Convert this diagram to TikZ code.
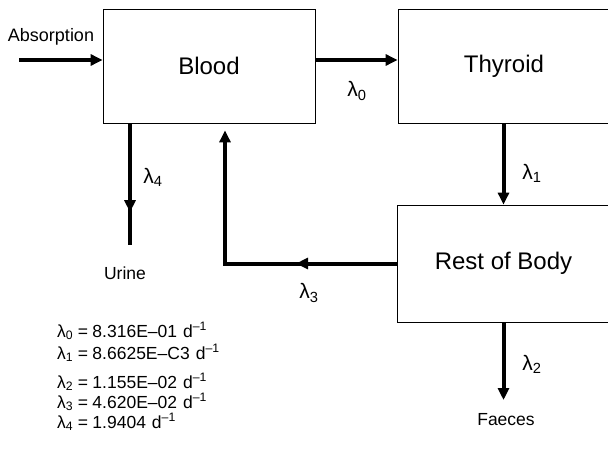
\documentclass[tikz,border=0pt]{standalone}
\usepackage{fontspec}
\setmainfont{Liberation Sans}
\usetikzlibrary{arrows.meta,decorations.markings}
\newcommand\lamb[1]{λ\textsubscript{#1}}
\newcommand\perday{d\textsuperscript{–1}}
\newcommand\eqs{\hspace{4.5pt}=\hspace{4.5pt}}
\begin{document}
\begin{tikzpicture}[x=1pt,y=-1pt,
  box/.style={draw, line width=0.8pt, inner sep=0pt, font=\fontsize{24}{28}\selectfont},
  flow/.style={line width=4pt, -{Triangle[length=12pt,width=11pt]}},
  plainflow/.style={line width=4pt},
  lbl/.style={font=\fontsize{17.5}{20}\selectfont, inner sep=0pt},
  lam/.style={font=\fontsize{21}{24}\selectfont, inner sep=0pt},
  eq/.style={font=\fontsize{17.5}{20}\selectfont, anchor=base west, inner sep=0pt},
  midarrow/.style={postaction={decorate}, decoration={markings,
     mark=at position #1 with {\arrow{Triangle[length=12pt,width=11pt]}}}}]
\useasboundingbox (0,0) rectangle (608,468);
\clip (0,0) rectangle (608,468);

% compartments
\node[box, minimum width=212pt, minimum height=114pt] (blood) at (209,66) {Blood};
\node[box, minimum width=212pt, minimum height=114pt] (thy) at (504,66) {Thyroid};
\node[box, minimum width=213pt, minimum height=117pt] (rest) at (503.5,263.5) {Rest of Body};

% free ends
\coordinate (absin) at (19,60);
\coordinate (urine) at (130,245);
\coordinate (corner) at (225,263.5);
\coordinate (faeces) at (503.5,400);

% labels
\node[lbl, font=\fontsize{18}{21}\selectfont] (tabs) at (51,37) {Absorption};
\node[lbl] (turine) at (125,273) {Urine};
\node[lbl] (tfaeces) at (506,420) {Faeces};
\node[lam] (l0) at (357,91) {\lamb{0}};
\node[lam] (l1) at (532,173) {\lamb{1}};
\node[lam] (l2) at (532,364) {\lamb{2}};
\node[lam] (l3) at (309,293) {\lamb{3}};
\node[lam] (l4) at (153,177) {\lamb{4}};

% connectors
\draw[flow] (absin) -- (blood.west |- absin);
\draw[flow] (blood.east |- absin) -- (thy.west |- absin);
\draw[flow] (thy.south -| rest.north) -- (rest.north);
\draw[flow] (rest.south) -- (faeces);
\draw[plainflow, midarrow=0.73] (blood.south -| urine) -- (urine);
\draw[flow, midarrow=0.33] (rest.west) -- (corner) -- ([yshift=-7pt]blood.south -| corner);

% rate constants
\node[eq] (e0) at (57,337) {\lamb{0}\eqs 8.316E–01\hspace{6pt}\perday};
\node[eq] (e1) at (57,359) {\lamb{1}\eqs 8.6625E–C3\hspace{6pt}\perday};
\node[eq] (e2) at (57,388) {\lamb{2}\eqs 1.155E–02\hspace{6pt}\perday};
\node[eq] (e3) at (57,408) {\lamb{3}\eqs 4.620E–02\hspace{6pt}\perday};
\node[eq] (e4) at (57,428) {\lamb{4}\eqs 1.9404\hspace{6pt}\perday};
\end{tikzpicture}
\end{document}
